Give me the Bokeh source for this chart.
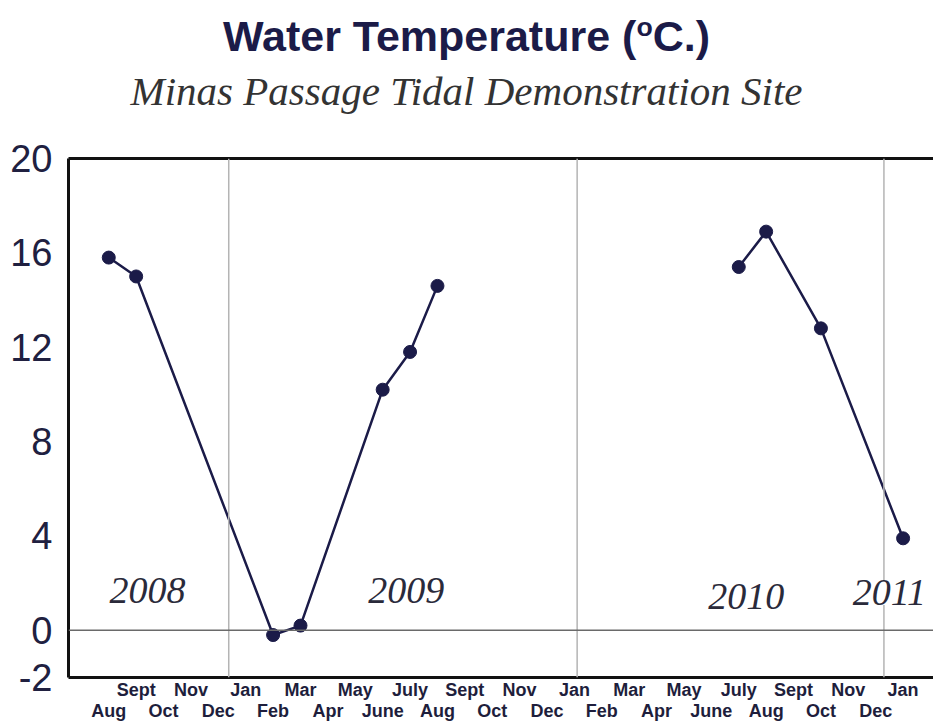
from bokeh.plotting import figure
from bokeh.models import (Range1d, FixedTicker, LinearAxis, Span, Label, Div)
from bokeh.layouts import column
from bokeh.embed import file_html
from bokeh.resources import INLINE

# ---- data ----
months = ["Aug", "Sept", "Oct", "Nov", "Dec",
          "Jan", "Feb", "Mar", "Apr", "May", "June", "July", "Aug", "Sept", "Oct", "Nov", "Dec",
          "Jan", "Feb", "Mar", "Apr", "May", "June", "July", "Aug", "Sept", "Oct", "Nov", "Dec",
          "Jan"]  # Aug 2008 .. Jan 2011

# series 1 (Aug 2008 - Aug 2009), month positions are indices into `months`
s1_month_idx = [0, 1, 6, 7, 10, 11, 12]
s1_temp = [15.8, 15.0, -0.2, 0.2, 10.2, 11.8, 14.6]
# series 2 (July 2010 - Jan 2011)
s2_month_idx = [23, 24, 26, 29]
s2_temp = [15.4, 16.9, 12.8, 3.9]

y_ticks = [-2, 0, 4, 8, 12, 16, 20]
year_dividers = [4.38, 17.1, 28.3]
year_labels = ["2008", "2009", "2010", "2011"]
year_label_x = [1.41, 10.86, 23.27, 28.5]
year_label_y = [1.7, 1.7, 1.45, 1.6]

title_text = "Water Temperature (<sup style='font-size:62%'>o</sup>C.)"
subtitle_text = "Minas Passage Tidal Demonstration Site"

NAVY = "#1b1b48"
W = 933
HEAD = 128

header = Div(
    text=("<div style='position:relative;width:%dpx;height:%dpx;'>"
          "<div style='position:absolute;left:0;top:1px;width:%dpx;text-align:center;"
          "font-family:\"Liberation Sans\";font-weight:bold;font-size:43px;line-height:52px;"
          "color:%s;'>%s</div>"
          "<div style='position:absolute;left:0;top:67px;width:%dpx;text-align:center;"
          "font-family:\"Liberation Serif\";font-style:italic;font-size:41px;line-height:48px;"
          "color:#333333;'>%s</div></div>") % (W, HEAD, W, NAVY, title_text, W, subtitle_text),
    width=W, height=HEAD, margin=0)

p = figure(width=W, height=595, output_backend="svg", toolbar_location=None,
           x_range=Range1d(-1.47, 30.11), y_range=Range1d(-2, 20),
           min_border_left=68, min_border_right=0, min_border_top=158 - HEAD,
           min_border_bottom=45, title=None, margin=0)
p.outline_line_color = None
p.xgrid.visible = False
p.ygrid.visible = False
p.background_fill_color = "white"

# y axis
ya = p.yaxis[0]
ya.ticker = FixedTicker(ticks=y_ticks)
ya.major_label_overrides = {-2: "-2"}
ya.major_tick_line_color = None
ya.minor_tick_line_color = None
ya.axis_line_width = 3
ya.axis_line_color = "#111111"
ya.major_label_text_font = "Liberation Sans"
ya.major_label_text_font_size = "38px"
ya.major_label_text_color = "#202040"
ya.major_label_standoff = 10

# x axis: two staggered rows
odd = [i for i in range(len(months)) if i % 2 == 1]
even = [i for i in range(len(months)) if i % 2 == 0]

xa = p.xaxis[0]
xa.ticker = FixedTicker(ticks=odd)
xa.major_label_overrides = {i: months[i] for i in odd}
xa.major_tick_line_color = None
xa.minor_tick_line_color = None
xa.axis_line_width = 3
xa.axis_line_color = "#111111"
xa.major_label_text_font = "Liberation Sans"
xa.major_label_text_font_style = "bold"
xa.major_label_text_font_size = "18px"
xa.major_label_text_color = "#1e1e3c"
xa.major_label_standoff = -4

xa2 = LinearAxis(ticker=FixedTicker(ticks=even),
                 major_label_overrides={i: months[i] for i in even})
xa2.axis_line_color = None
xa2.major_tick_line_color = None
xa2.minor_tick_line_color = None
xa2.major_label_text_font = "Liberation Sans"
xa2.major_label_text_font_style = "bold"
xa2.major_label_text_font_size = "18px"
xa2.major_label_text_color = "#1e1e3c"
xa2.major_label_standoff = -8
p.add_layout(xa2, "below")

# top border line
xt = LinearAxis(ticker=FixedTicker(ticks=[]))
xt.axis_line_width = 3
xt.axis_line_color = "#111111"
xt.major_tick_line_color = None
xt.minor_tick_line_color = None
xt.major_label_text_font_size = "0px"
p.add_layout(xt, "above")

# reference lines
for d in year_dividers:
    p.add_layout(Span(location=d, dimension="height", line_color="#b4b4b4", line_width=1.5))
p.add_layout(Span(location=0, dimension="width", line_color="#6a6a6a", line_width=1.5))

# data
for xs, ys in ((s1_month_idx, s1_temp), (s2_month_idx, s2_temp)):
    p.line(xs, ys, line_color=NAVY, line_width=2.5)
    p.scatter(xs, ys, size=13, fill_color=NAVY, line_color=NAVY)

# year labels
for t, x, y in zip(year_labels, year_label_x, year_label_y):
    p.add_layout(Label(x=x, y=y, text=t, text_align="center", text_baseline="middle",
                       text_font="Liberation Serif", text_font_style="italic",
                       text_font_size="38px", text_color="#2a2a3a",
                       background_fill_color="white" if t == "2011" else None))

layout = column(header, p, spacing=0)
open("out.html", "w").write(file_html(layout, INLINE))
